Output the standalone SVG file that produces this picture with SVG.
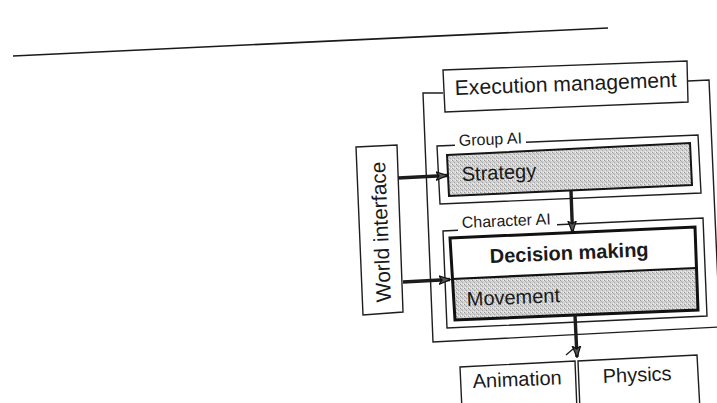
<svg xmlns="http://www.w3.org/2000/svg" width="717" height="403" viewBox="0 0 717 403">
  <style>
    .frame { fill: none; stroke: #1e1e1e; stroke-width: 1.4; stroke-linejoin: miter; }
    .box { fill: #ffffff; stroke: #1e1e1e; stroke-width: 1.4; }
    .shaded { fill: url(#stipple); stroke: #151515; stroke-width: 2; }
    .bold-box { fill: none; stroke: #111111; stroke-width: 3; }
    .label { font-family: "Liberation Sans", Arial, Helvetica, sans-serif; fill: #1a1a1a; font-size: 20px; }
    .small { font-size: 16px; }
    .strong { font-weight: bold; }
    .shaft { stroke: #1c1c1c; stroke-width: 3.4; fill: none; }
    .thin { stroke: #1c1c1c; stroke-width: 1.3; fill: none; }
  </style>
  <defs>
    <!-- halftone-like grey used for the shaded layers -->
    <pattern id="stipple" width="4" height="4" patternUnits="userSpaceOnUse">
      <rect width="4" height="4" fill="#d2d2d2"/>
      <rect x="0" y="0" width="1" height="1" fill="#999999"/>
      <rect x="2" y="2" width="1" height="1" fill="#a4a4a4"/>
      <rect x="3" y="0" width="1" height="1" fill="#f0f0f0"/>
      <rect x="1" y="3" width="1" height="1" fill="#f2f2f2"/>
      <rect x="1" y="1" width="1" height="1" fill="#b8b8b8"/>
    </pattern>
    <marker id="head" viewBox="0 0 12 10" refX="11" refY="5" markerWidth="12" markerHeight="10" markerUnits="userSpaceOnUse" orient="auto">
      <path d="M0,0.8 L11.5,5 L0,9.2 L3,5 Z" fill="#555555" stroke="#111111" stroke-width="1.2" stroke-linejoin="miter"/>
    </marker>
  </defs>

  <rect width="717" height="403" fill="#ffffff"/>

  <!-- rule across the top of the page -->
  <line x1="13" y1="56" x2="608" y2="28" stroke="#1a1a1a" stroke-width="1.6"/>

  <!-- execution management frame -->
  <g id="execution-management">
    <polyline class="frame" points="443,93 423,93 433,342 720,327"/>
    <polyline class="frame" points="688,81 709,80 720,330"/>
    <polygon class="box" points="443,70 687,61 688,102 445,112"/>
    <text class="label" x="455" y="95" font-size="21" style="font-size:21px" textLength="222" lengthAdjust="spacingAndGlyphs" transform="rotate(-2.1 455 95)">Execution management</text>
  </g>

  <!-- group level AI -->
  <g id="group-ai">
    <polyline class="frame" points="455,145.2 437,146 440,204 701,193 698,135 526,142.3"/>
    <text class="label small" x="459" y="146" transform="rotate(-2.4 459 146)">Group AI</text>
  </g>

  <g id="strategy">
    <polygon class="shaded" points="447,155 690,143 692,185 449,196"/>
    <text class="label" x="462" y="181" transform="rotate(-2.6 462 181)">Strategy</text>
  </g>

  <!-- character level AI -->
  <g id="character-ai">
    <polyline class="frame" points="458,230.3 443,231 447,328 707,316 703,218 557,224.8"/>
    <text class="label small" x="462" y="228" transform="rotate(-2.4 462 228)">Character AI</text>
  </g>

  <g id="decision-making">
    <polygon points="450,238 695,227 696,268 452,279" fill="#ffffff"/>
    <text class="label strong" x="490" y="263" transform="rotate(-2.4 490 263)">Decision making</text>
  </g>

  <g id="movement">
    <polygon points="452,279 696,268 698,310 455,320" fill="url(#stipple)"/>
    <line x1="452" y1="279" x2="696" y2="268" stroke="#111111" stroke-width="2.2"/>
    <text class="label" x="467" y="306" transform="rotate(-2.4 467 306)">Movement</text>
  </g>

  <!-- shared outline of the character layers -->
  <polygon class="bold-box" points="450,238 695,227 698,310 455,320"/>

  <g id="world-interface">
    <polygon class="box" points="356,147 397,145 403,312 363,315"/>
    <text class="label" x="391" y="302" font-size="21" style="font-size:21px" transform="rotate(-92.4 391 302)">World interface</text>
  </g>

  <g id="animation">
    <polyline class="box" points="462,410 460,367 575,361 577,410"/>
    <text class="label" x="473" y="388" transform="rotate(-2.4 473 388)">Animation</text>
  </g>

  <g id="physics">
    <polyline class="box" points="580,410 578,361 697,355 700,410"/>
    <text class="label" x="603" y="383" transform="rotate(-2.4 603 383)">Physics</text>
  </g>

  <!-- connectors -->
  <g id="connectors">
    <line class="shaft" x1="398" y1="178" x2="447" y2="175.5" marker-end="url(#head)"/>
    <line class="shaft" x1="403" y1="282" x2="450" y2="279.5" marker-end="url(#head)"/>
    <line class="shaft" x1="571" y1="191" x2="572.5" y2="232" marker-end="url(#head)"/>
    <line class="shaft" x1="575" y1="315" x2="577" y2="357" marker-end="url(#head)"/>
    <line class="thin" x1="566" y1="355" x2="573" y2="349"/>
  </g>
</svg>
